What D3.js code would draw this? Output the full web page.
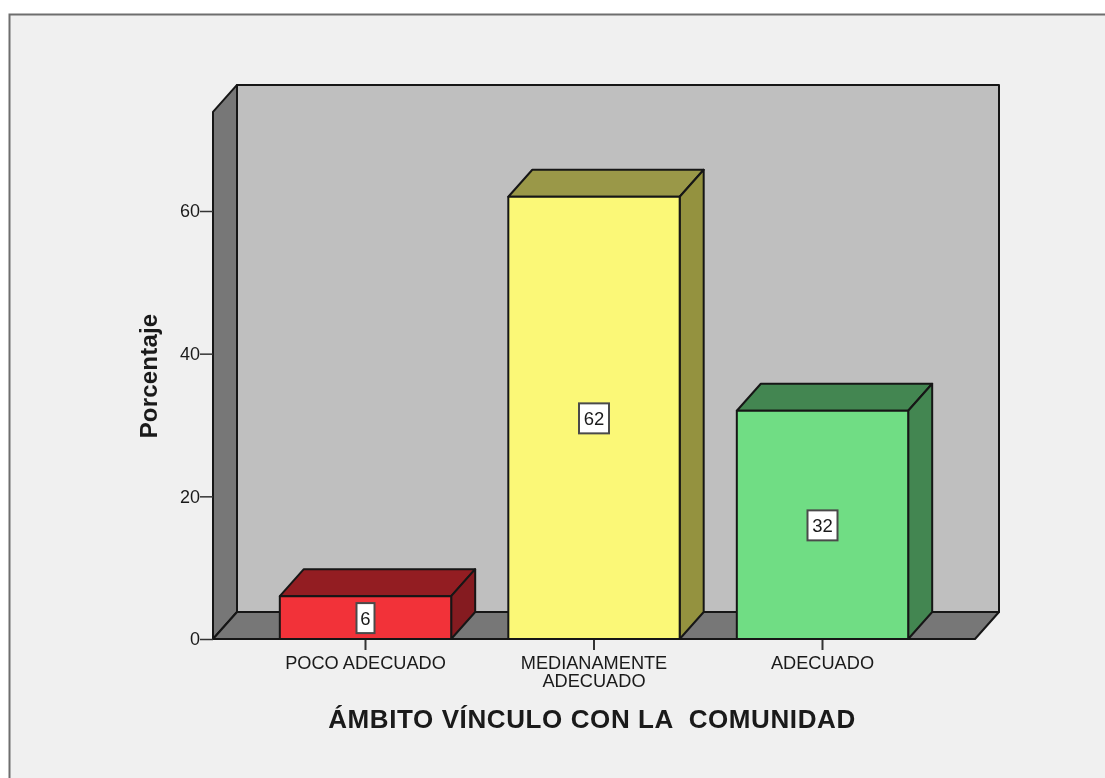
<!DOCTYPE html>
<html><head><meta charset="utf-8">
<script src="https://cdn.jsdelivr.net/npm/d3@7"></script>
<style>html,body{margin:0;padding:0;background:#fff}svg{display:block;filter:blur(0.45px)}text{font-family:"Liberation Sans",Arial,sans-serif;fill:#1a1a1a}</style>
</head><body><svg id="c" width="1105" height="778"></svg>
<script>
const categories = ["POCO ADECUADO", "MEDIANAMENTE\nADECUADO", "ADECUADO"];
const values = [6, 62, 32];
const yTicks = [0, 20, 40, 60];
const frontColors = ["#f23239", "#fbf877", "#70dd84"];
const topColors = ["#931d22", "#9a9848", "#438651"];
const sideColors = ["#851b20", "#94923f", "#438651"];
const xTitle = "ÁMBITO VÍNCULO CON LA  COMUNIDAD";
const yTitle = "Porcentaje";

const svg = d3.select("#c");
const DX = 24, DY = 27, INK = "#161616";
const y = d3.scaleLinear().domain([0, 60]).range([639, 211]);
const x = d3.scaleBand().domain(categories).range([251.25, 936.75]).paddingInner(0.25).paddingOuter(0.125);
const plotL = 213, plotR = 975, yTop = y(77.67);

const poly = (pts, fill, sw = 2) => svg.append("polygon")
  .attr("points", pts.map(p => p.join(",")).join(" "))
  .attr("fill", fill).attr("stroke", INK).attr("stroke-width", sw).attr("stroke-linejoin", "round");

// chart frame
svg.append("rect").attr("x", 9).attr("y", 15).attr("width", 1096).attr("height", 763).attr("fill", "#f0f0f0");
svg.append("path").attr("d", "M9.5,778V14.5H1105").attr("fill", "none").attr("stroke", "#6e6e6e").attr("stroke-width", 2);

// 3D walls
poly([[plotL + DX, yTop], [plotR + DX, yTop], [plotR + DX, y(0) - DY], [plotL + DX, y(0) - DY]], "#bfbfbf");
poly([[plotL, yTop + DY], [plotL + DX, yTop], [plotL + DX, y(0) - DY], [plotL, y(0)]], "#777777");
poly([[plotL, y(0)], [plotL + DX, y(0) - DY], [plotR + DX, y(0) - DY], [plotR, y(0)]], "#777777");

// axes
const yAxis = d3.axisLeft(y).tickValues(yTicks).tickSize(13).tickSizeOuter(0).tickFormat(d3.format("d"));
const ya = svg.append("g").attr("transform", `translate(${plotL},0)`).call(yAxis);
ya.select(".domain").remove();
ya.selectAll("line").attr("stroke", "#333").attr("stroke-width", 1.5);
ya.selectAll("text").attr("x", -13).attr("font-size", 18).style("font-family", '"Liberation Sans",Arial,sans-serif').attr("fill", "#1a1a1a");

const xAxis = d3.axisBottom(x).tickSize(11).tickSizeOuter(0).tickFormat("");
const xa = svg.append("g").attr("transform", `translate(0,${y(0)})`).call(xAxis);
xa.select(".domain").remove();
xa.selectAll("line").attr("stroke", "#333").attr("stroke-width", 2);

// bars
categories.forEach((c, i) => {
  const l = x(c), r = l + x.bandwidth(), t = y(values[i]), b = y(0);
  poly([[l, t], [l + DX, t - DY], [r + DX, t - DY], [r, t]], topColors[i]);
  poly([[r, t], [r + DX, t - DY], [r + DX, b - DY], [r, b]], sideColors[i]);
  poly([[l, t], [r, t], [r, b], [l, b]], frontColors[i]);
  const cx = l + x.bandwidth() / 2, cy = (t + b) / 2 + 0.5;
  const lab = String(values[i]), w = lab.length > 1 ? 30 : 18;
  svg.append("rect").attr("x", cx - w / 2).attr("y", cy - 15).attr("width", w).attr("height", 30)
    .attr("fill", "#fff").attr("stroke", "#4a4a4a").attr("stroke-width", 2);
  svg.append("text").attr("x", cx).attr("y", cy + 7).attr("text-anchor", "middle").attr("font-size", 18.5).text(lab);
  // category labels
  c.split("\n").forEach((ln, k) => {
    svg.append("text").attr("x", cx).attr("y", 669 + k * 18).attr("text-anchor", "middle")
      .attr("font-size", 18.2).text(ln);
  });
});

// titles
svg.append("text").attr("x", 592).attr("y", 728).attr("text-anchor", "middle").attr("font-size", 26)
  .attr("letter-spacing", 0.6).attr("font-weight", "bold").style("white-space", "pre").text(xTitle);
svg.append("text").attr("transform", "translate(157,376) rotate(-90)").attr("text-anchor", "middle")
  .attr("font-size", 24).attr("letter-spacing", 0.2).attr("font-weight", "bold").text(yTitle);
</script></body></html>
